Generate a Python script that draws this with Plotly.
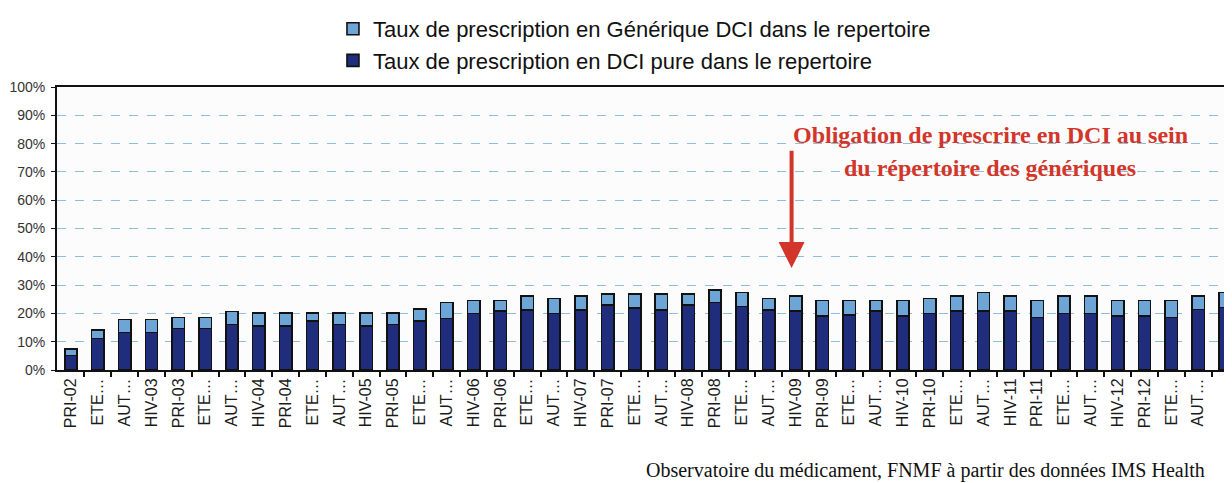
import plotly.graph_objects as go

categories = ["PRI-02", "ETE-02", "AUT-02", "HIV-03", "PRI-03", "ETE-03", "AUT-03", "HIV-04",
              "PRI-04", "ETE-04", "AUT-04", "HIV-05", "PRI-05", "ETE-05", "AUT-05", "HIV-06",
              "PRI-06", "ETE-06", "AUT-06", "HIV-07", "PRI-07", "ETE-07", "AUT-07", "HIV-08",
              "PRI-08", "ETE-08", "AUT-08", "HIV-09", "PRI-09", "ETE-09", "AUT-09", "HIV-10",
              "PRI-10", "ETE-10", "AUT-10", "HIV-11", "PRI-11", "ETE-11", "AUT-11", "HIV-12",
              "PRI-12", "ETE-12", "AUT-12", "HIV-13"]
tick_labels = ["PRI-02", "ETE…", "AUT…", "HIV-03", "PRI-03", "ETE…", "AUT…", "HIV-04",
               "PRI-04", "ETE…", "AUT…", "HIV-05", "PRI-05", "ETE…", "AUT…", "HIV-06",
               "PRI-06", "ETE…", "AUT…", "HIV-07", "PRI-07", "ETE…", "AUT…", "HIV-08",
               "PRI-08", "ETE…", "AUT…", "HIV-09", "PRI-09", "ETE…", "AUT…", "HIV-10",
               "PRI-10", "ETE…", "AUT…", "HIV-11", "PRI-11", "ETE…", "AUT…", "HIV-12",
               "PRI-12", "ETE…", "AUT…", "HIV-13"]
# Taux de prescription en DCI pure (%)
dci_pure = [5.1, 11.2, 13.3, 13.3, 14.7, 14.7, 16.1, 15.5, 15.5, 17.3, 16.1, 15.5, 16.1, 17.3,
            18.2, 20.0, 20.8, 21.2, 20.0, 21.2, 22.9, 22.0, 21.2, 22.9, 23.8, 22.4, 21.2, 20.8,
            19.1, 19.4, 20.8, 19.1, 20.0, 20.8, 20.8, 20.8, 18.5, 20.0, 20.0, 19.1, 19.1, 18.5,
            21.4, 22.1]
# Taux total (DCI pure + Générique DCI) (%)
total = [7.4, 14.2, 17.9, 17.9, 18.5, 18.5, 20.7, 20.1, 20.1, 20.1, 20.1, 20.1, 20.1, 21.5,
         23.9, 24.6, 24.6, 26.2, 25.2, 26.2, 26.8, 26.8, 26.8, 26.8, 28.2, 27.4, 25.2, 26.2,
         24.5, 24.5, 24.5, 24.5, 25.2, 26.2, 27.4, 26.1, 24.5, 26.2, 26.2, 24.5, 24.5, 24.5,
         26.2, 27.4]
generique_dci = [round(t - d, 1) for t, d in zip(total, dci_pure)]
y_ticks = [0, 10, 20, 30, 40, 50, 60, 70, 80, 90, 100]

x = list(range(len(categories)))
dark = "#1f2d7c"
light = "#6da6d6"

fig = go.Figure()
fig.add_trace(go.Bar(
    x=x, y=dci_pure, name="Taux de prescription en DCI pure dans le repertoire",
    marker=dict(color=dark, line=dict(color="#111111", width=1.6)),
    width=0.46, legendgroup="a", legendrank=2, customdata=categories,
))
fig.add_trace(go.Bar(
    x=x, y=generique_dci, name="Taux de prescription en Générique DCI dans le repertoire",
    marker=dict(color=light, line=dict(color="#111111", width=1.6)),
    width=0.46, legendgroup="b", legendrank=1, customdata=categories,
))

# the page body adds an 8px offset, so the figure is 8px smaller on each side
fig.update_layout(
    barmode="stack",
    width=1224, height=475,
    margin=dict(l=49, r=0, t=79, b=113, autoexpand=False),
    paper_bgcolor="white",
    plot_bgcolor="#fcfcfc",
    font=dict(family="Arial, Liberation Sans, sans-serif", color="#222222"),
    showlegend=True,
    legend=dict(
        xref="container", yref="container", x=0.2655, y=1.005, xanchor="left", yanchor="top",
        traceorder="grouped", tracegroupgap=0, itemwidth=30,
        font=dict(size=22, family="Arial, Liberation Sans, sans-serif", color="#111111"),
        bgcolor="rgba(0,0,0,0)",
    ),
    xaxis=dict(
        range=[-0.52, 43.26], tickmode="array", tickvals=x, ticktext=tick_labels,
        tickangle=-90, tickfont=dict(size=16, color="#1a1a1a"),
        showline=True, linecolor="#111111", linewidth=2, mirror=True,
        ticks="", showgrid=False, zeroline=False,
        minor=dict(tickmode="array", tickvals=[i + 0.5 for i in x], ticks="outside",
                   ticklen=5, tickcolor="#111111", tickwidth=2),
    ),
    yaxis=dict(
        range=[0, 100], tickmode="array", tickvals=y_ticks,
        ticktext=[f"{v}%" for v in y_ticks], tickfont=dict(size=14, color="#333333"),
        showline=True, linecolor="#111111", linewidth=2,
        ticks="outside", ticklen=4, tickcolor="#111111", ticklabelstandoff=3,
        showgrid=True, gridcolor="#8dbfd9", griddash="dash", gridwidth=1.3,
        zeroline=False,
    ),
    bargap=0.5,
)

red = "#d2352a"
fig.add_annotation(
    x=26.85, y=36, ax=26.85, ay=78, xref="x", yref="y", axref="x", ayref="y",
    text="", showarrow=True, arrowhead=2, arrowsize=1.3, arrowwidth=4, arrowcolor=red,
)
fig.add_annotation(
    x=34.25, y=83, xref="x", yref="y", showarrow=False,
    text="<b>Obligation de prescrire en DCI au sein</b>",
    font=dict(family="Liberation Serif, Times New Roman, serif", size=24, color=red),
)
fig.add_annotation(
    x=34.25, y=71.4, xref="x", yref="y", showarrow=False,
    text="<b>du répertoire des génériques</b>",
    font=dict(family="Liberation Serif, Times New Roman, serif", size=24, color=red),
)
fig.add_annotation(
    x=(925 - 57) / 1175, y=(370 - 470) / 283, xref="paper", yref="paper", showarrow=False,
    xanchor="center", yanchor="middle",
    text="Observatoire du médicament, FNMF à partir des données IMS Health",
    font=dict(family="Liberation Serif, Times New Roman, serif", size=20, color="#111111"),
)

fig.write_html("out.html")
